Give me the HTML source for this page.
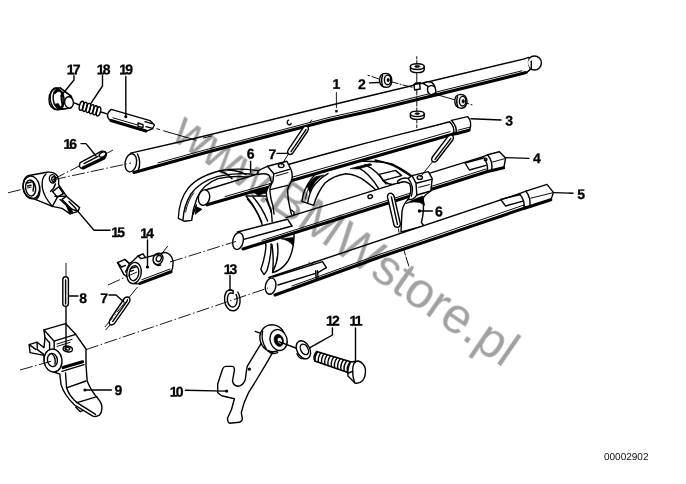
<!DOCTYPE html>
<html>
<head>
<meta charset="utf-8">
<title>00002902</title>
<style>
html,body{margin:0;padding:0;background:#fff;}
body{width:686px;height:484px;overflow:hidden;font-family:"Liberation Sans",sans-serif;}
svg{display:block;position:absolute;left:0;top:0;}
text{-webkit-font-smoothing:antialiased;text-rendering:geometricPrecision;}
.l{fill:none;stroke:#000;stroke-width:1.4;stroke-linecap:round;stroke-linejoin:round;}
.w{fill:#fff;stroke:#000;stroke-width:1.4;stroke-linecap:round;stroke-linejoin:round;}
.f{fill:#fff;stroke:none;}
.t{fill:none;stroke:#000;stroke-width:3.1;stroke-linecap:round;stroke-linejoin:round;}
.h{fill:none;stroke:#000;stroke-width:0.95;stroke-linecap:round;}
.k{fill:#000;stroke:#000;stroke-width:0.6;stroke-linejoin:round;}
.c{fill:none;stroke:#000;stroke-width:0.9;stroke-dasharray:13 2.5 1.5 2.5;}
.n{font-family:"Liberation Sans",sans-serif;font-weight:bold;font-size:14px;fill:#000;stroke:#000;stroke-width:0.3;text-anchor:middle;}
.id{font-family:"Liberation Sans",sans-serif;font-size:10px;fill:#111;}
.wm{font-family:"Liberation Sans",sans-serif;font-size:50px;fill:#000;fill-opacity:0.37;}
</style>
</head>
<body>
<svg width="686" height="484" viewBox="0 0 686 484">
<defs><filter id="gs" x="0" y="0" width="686" height="484" filterUnits="userSpaceOnUse" color-interpolation-filters="sRGB"><feColorMatrix type="saturate" values="0"/></filter></defs>
<rect x="0" y="0" width="686" height="484" fill="#fff"/>
<g id="rod1">
<path class="f" d="M130.6,153.1 L188,140 L344,102 L525,58.6 L526.5,73 L373,110.6 L330,120.2 L270,136 L205.8,152.6 L134,172.6 Z"/>
<path class="l" d="M130.6,153.1 L188,140 L344,102 L525.5,58.6"/>
<path class="t" d="M134,172.4 L205.8,152.5 L270,135.8 L330,120 L373,110.5 L526,72.6"/>
<path class="h" d="M158,162.9 L205.8,149.7 L270,133 L330,117.2 L373,107.7 L522,70.8"/>
<ellipse class="w" cx="130.8" cy="162.8" rx="5.7" ry="9.2" transform="rotate(10 130.8 162.8)"/>
<path class="l" d="M137.5,154 Q141.5,162 138.2,170.6"/>
<circle class="w" cx="534.4" cy="63" r="7" stroke-width="1.8"/>
<path class="f" d="M525,58.6 Q527,58 528.6,58.6 Q526.6,63 529.6,68.6 Q528,70.6 526.6,72.2 Z"/>
<path class="l" d="M525,58.6 Q527,58 528.8,57.4 M526.4,72.6 Q528.4,71 530,69.6"/>
<path class="l" d="M531.3,61.2 V68.8" stroke-width="1"/>
<path class="l" d="M288.5,120.2 a2,2.4 0 1 0 2.6,3.2" stroke-width="1.2"/>
</g>
<g id="part2">
<!-- notch in rod 1 -->
<path class="w" d="M423,83.4 Q427,80.6 431.6,82.4 Q436.4,86 435.6,93 L431,95 Q426,92 428,86.4 Z"/>
<path class="l" d="M428.6,86.6 Q432,84.6 434.6,86.8" stroke-width="1.4"/>
<path class="l" d="M431,95 Q436,96 436,92.6" stroke-width="1.6"/>
<!-- top washer -->
<path class="w" d="M410.4,66.6 V69.6 Q410.6,72.6 417.3,72.6 Q424,72.6 424.2,69.6 V66.6 Z"/>
<ellipse class="w" cx="417.3" cy="66.6" rx="6.9" ry="2.9" stroke-width="1.4"/>
<ellipse class="k" cx="417.3" cy="66.4" rx="2.6" ry="1"/>
<!-- bottom washer -->
<path class="w" d="M410.4,113.8 V116.6 Q410.6,119.4 417.3,119.4 Q424,119.4 424.2,116.6 V113.8 Z"/>
<ellipse class="w" cx="417.3" cy="113.8" rx="6.9" ry="2.7" stroke-width="1.4"/>
<ellipse class="k" cx="417.3" cy="113.6" rx="2.4" ry="0.9"/>
<!-- cube -->
<path class="w" d="M414,84.6 L419.6,83.6 L420.2,89 L414.6,90 Z" stroke-width="1.4"/>
<path class="l" d="M414,84.6 L415.4,83.2 L420.4,82.6 L419.6,83.6"/>
<!-- left roller -->
<path class="w" d="M385.6,73.4 Q379.4,73.6 379.6,80.6 Q380,87.4 386.6,87.4 Q391.6,87 391.8,80.2 Q391.6,73.6 385.6,73.4 Z" stroke-width="1.4"/>
<ellipse class="l" cx="387.6" cy="79.9" rx="3.2" ry="4.8"/>
<ellipse class="k" cx="388.2" cy="80" rx="1.2" ry="1.8"/>
<path class="l" d="M382.6,75.6 Q380.6,80 382.6,85.6" stroke-width="0.8"/>
<!-- right roller -->
<path class="w" d="M460.6,94.4 Q454.4,94.8 454.8,101.8 Q455.4,108.4 461.6,108.2 Q466.8,107.6 467,101.2 Q466.6,94.6 460.6,94.4 Z" stroke-width="1.4"/>
<ellipse class="l" cx="462.6" cy="101.2" rx="3.2" ry="4.8"/>
<ellipse class="k" cx="463.2" cy="101.3" rx="1.2" ry="1.8"/>
<path class="l" d="M457.6,96.8 Q455.8,101.4 457.8,106.6" stroke-width="0.8"/>
</g>
<g id="forkR">
<!-- right fork: upper prong (behind rod 3 and rod 4) -->
<path class="w" d="M302,201.4 Q303,193 306,187.6 Q310,179 318,172 Q334,163 356,161.4 Q378,160.4 392,164 Q404,170 412,176 L410,192 L378,192 Q373,187 366,181.6 Q357,174.6 346,173.8 Q334,175.4 325,183 Q317.6,192 313.6,205.4 Z"/>
<path class="l" d="M307.6,203.4 Q309,194 313,187 Q319,178.6 328,173.6"/>
<path class="h" d="M305.4,199 Q306.6,191 310.4,184.4"/>
<path class="k" d="M307,186 Q311,179.6 316,176.6 L324,175 Q317,178 313,185.4 Q311,189 310,193 Z"/>
<path class="k" d="M350,168.6 L370,163.6 L372,165 L358,169 Z"/>
<path class="l" d="M358,167.4 Q370,174 378.5,188.4"/>
<path class="l" d="M365,164.6 Q378,171 386,184"/>
<path class="l" d="M379.2,174.4 L395.6,170.4 L401.6,175.6 L383,180.6 Z"/>
<path class="l" d="M375,160 Q392,163 406,173.2 L410,175.6"/>
<path class="l" d="M383,180.6 Q390,186 397,183.6"/>
<!-- lower prong (behind rod 5) -->
<path class="w" d="M408,199.6 Q403.4,204 402,211 L401,232 L424,226 L421.4,222.6 Q424.6,210 423,198 Q426,194 430.6,191 L416,188 Z"/>
<path class="k" d="M406,203.6 Q412,199.6 423,196 Q423.6,200.6 424.6,205.4 Q420,201.4 414,202 Q409,202.4 406,203.6 Z"/>
</g>
<g id="forkL">
<!-- left fork: upper prong (behind rod 3) -->
<path class="w" d="M178.3,218.3 Q179,200 188,188.4 Q198,176 221,170.5 Q238,167.8 258,170.6 L268,172 L270,186 L254,178 Q236,174.6 218,178.6 Q203,184 197,198 Q192.6,209 191.7,220.4 L184,221.2 Z"/>
<path class="l" d="M183,219.4 Q184,205 191,194 Q200,181.4 218,176.4 Q236,172 256,174.6"/>
<path class="h" d="M185.6,212 Q187.6,201 193.6,193"/>
<path class="l" d="M220,171 Q228,173.6 232,178.8"/>
<path class="l" d="M228,170 Q240,170.6 246,174.6"/>
<path class="k" d="M196,206.6 L202,209.2 L195,214.4 Z"/>
<path class="l" d="M193,214.6 L196.4,205"/>
<!-- web + lower prong (behind rod 4 / rod 5) -->
<path class="w" d="M246,196 Q256,207 262,224 L266,246 Q265,258 260.8,269.4 L264,274.6 L267,270.6 Q271.4,256 271,244 L272,244.6 Q274,259 272.6,272.6 Q282,270 288,261 Q293.6,251 294,237 L294,212 L272,196 Z"/>
<path class="l" d="M247.4,199 Q256,208 261.8,222"/>
<path class="l" d="M253,197 Q262,207 267.6,221"/>
<path class="l" d="M266,199 Q270.6,208 273,218"/>
<path class="l" d="M277.4,243.4 Q279.6,258 273,271.4"/>
<path class="k" d="M281,238.8 L293.8,237.4 L293.4,246 Q289,240 281,238.8 Z"/>
<path class="k" d="M254,192.6 L268,189 L268.6,193 Q262,193 259,196 Z"/>
</g>
<g id="rod3">
<path class="f" d="M205.6,190 L290,164 L322,155 L344,149 L365,143.4 L400,134.4 L437.5,125 L449.4,121.8 L451.5,120.6 L468,116.8 L471,123 L469.4,130 L456,133.8 L452.5,134 L206,205 Z"/>
<path class="l" d="M205.6,190 L290,164 L322,155 L344,149 L365,143.4 L400,134.4 L437.5,125 L449.6,121.8"/>
<path class="t" d="M207,204.8 L452.5,134.2"/>
<path class="h" d="M225,196.6 L450,131.6"/>
<ellipse class="w" cx="204" cy="197.6" rx="5.6" ry="7.8" transform="rotate(12 204 197.6)"/>
<path class="l" d="M449.6,121.8 Q455,127 453.6,134"/>
<path class="l" d="M451.5,120.4 L467.6,116.6 Q472.6,122 469.6,130.2"/>
<path class="l" d="M451.5,120.4 Q457.5,126.5 456,133.6"/>
<path class="t" d="M457,133.4 L469,130.2"/>
<path class="h" d="M458,130.2 L469.6,127.2"/>
<path class="t" d="M452.5,134.2 L457,133.4"/>
</g>
<g id="hubL">
<!-- left fork hub (in front of rod 3) -->
<path class="w" d="M258,171 Q262,168.4 267.5,166.3 L286.9,161.2 L291.2,170 Q293.4,177 291,182 Q288.4,186 287.5,190 Q287.6,200 290.6,211 L293.6,222 L272.6,226 L271.2,210 Q266,198 266.4,192.4 Q267,188 271.6,182.6 Q270,177 268.8,175 Q264,172.6 258,174.6 Z"/>
<path class="l" d="M267.5,166.3 L273.8,173.8 L289.4,169.4"/>
<path class="l" d="M273.8,173.8 L273,181.2 Q269.4,187 270,192 Q270.6,199 273,206.4 L274,214"/>
<ellipse class="l" cx="281.2" cy="165.6" rx="2.8" ry="2" stroke-width="1.3"/>
<path class="h" d="M276,176 L288,172.6"/>
<path class="l" d="M270.4,189.6 L287.6,185.4"/>
</g>
<g id="rod4">
<path class="f" d="M237.5,232 L292,216.5 L483,156.6 L487.5,154.8 L499.4,151.8 L505.6,158 L503.8,168 L487.5,171.4 L243.8,249 Z"/>
<path class="l" d="M237.5,232 L287.5,219.2 L292,226"/>
<path class="l" d="M243.8,239.4 L292,226"/>
<path class="l" d="M286,217.6 L483.2,156.6"/>
<path class="t" d="M243,249 L487.5,171.6"/>
<path class="h" d="M262,240.4 L486,169"/>
<ellipse class="w" cx="238" cy="241" rx="5.2" ry="8.6" transform="rotate(12 238 241)"/>
<path class="l" d="M483.2,156.6 Q488.6,164 487.2,171.4"/>
<path class="l" d="M487.6,154.8 L499.4,151.8 L505.6,158 L503.8,167.8"/>
<path class="l" d="M487.6,154.8 Q493.4,162 491.6,170.4"/>
<path class="t" d="M492,170.4 L503.6,167.8"/>
<path class="h" d="M492.6,162 L505,158.6"/>
<path class="l" d="M465,163 L482.6,158.2 M465,163 L469.4,170 L486,165.4"/>
<circle class="l" cx="485.6" cy="159.4" r="1.3"/>
<path class="l" d="M483.2,156.6 L487.6,154.8"/>
<path class="t" d="M487.2,171.6 L492,170.4"/>
<ellipse class="l" cx="370.2" cy="196.6" rx="2.3" ry="1.8" transform="rotate(-20 370.2 196.6)" stroke-width="1.2"/>
</g>
<g id="hubR">
<!-- right fork hub (in front of rod 4) -->
<path class="w" d="M397.4,181.4 Q402,177 408.2,178.4 L412,175.6 L428.4,171.6 L432.2,178.6 L430.8,191 L416.8,195 Q414,200 408.2,199.6 Q412.6,190 409.6,183.6 Q404,180 398.2,183.4 Z"/>
<path class="l" d="M412,175.6 L416,183.2 L431.4,179.4 M416,183.2 L416.8,195"/>
<path class="l" d="M408.2,178.6 Q414.6,186 411.4,196" />
<ellipse class="l" cx="419.8" cy="177.5" rx="2.6" ry="1.9" stroke-width="1.3"/>
<path class="h" d="M418.6,187.4 L429.4,184.6"/>
<!-- pin 7 on rod 4 -->
<path class="w" d="M387.4,196.6 Q388,192.6 391.6,193.4 Q393.6,194.6 394.2,196.6 L400.4,224 Q400,227.6 397,227.4 Q394.4,227 394,225 Z" stroke-width="1.9"/>
<path class="l" d="M391.4,197 L397.4,224.4" stroke-width="1.2"/>
<path class="h" d="M398.4,229 L399,232.4"/>
</g>
<g id="rod5">
<path class="f" d="M268.8,277.5 L519.4,193.6 L526,191.2 L547,184.4 L553.4,192.4 L551,199.6 L526,207.6 L275,295 Z"/>
<path class="l" d="M268.8,277.5 L519.4,193.6"/>
<path class="t" d="M275,295 L380,257 L423,242.6 L526,207.6"/>
<path class="h" d="M292,286 L380,254.2 L423,239.8 L524,205"/>
<ellipse class="w" cx="270.6" cy="286.2" rx="5.2" ry="8.2" transform="rotate(12 270.6 286.2)"/>
<path class="l" d="M273,277 L322.5,261.6 L326.4,267.6"/>
<path class="l" d="M278,285 L315.6,273.4 M317.4,272.8 L326.4,267.6"/>
<path class="l" d="M315.6,271 L316.4,279.6 M317.4,270.6 L318.2,279" />
<path class="h" d="M309,262.6 l2.4,1.8 l2.4,-2.6"/>
<path class="l" d="M519.4,193.6 Q525.4,200.6 523.8,208.2"/>
<path class="l" d="M526,191.2 L547,184.4 L553.4,192.4 L551,199.6"/>
<path class="l" d="M526,191.2 Q531.4,199 529.6,206.6"/>
<path class="t" d="M530,206.4 L550.8,199.8"/>
<path class="h" d="M530.6,198.2 L552.6,192.8"/>
<path class="l" d="M500.6,199.4 L519.6,194.8 M500.6,199.4 L505.6,206 L523,201.2"/>
<path class="l" d="M519.4,193.6 L526,191.2"/>
<path class="t" d="M525,208 L530,206.4"/>
</g>
<g id="pins7">
<!-- pin 7 upper-left -->
<path class="h" d="M310,122.4 L311.6,120 M289,153 L281.6,165"/>
<path class="w" d="M303.2,127.6 Q306,125 308,127 Q309,129 307.8,131 L292.6,153.4 Q290,155.6 288,153.6 Q287,151.6 288.4,149.6 Z" stroke-width="1.4"/>
<path class="l" d="M306,129.6 L291,151.6" stroke-width="0.9"/>
<!-- pin 7 upper-right -->
<path class="h" d="M433.4,160.6 L420.4,177"/>
<path class="w" d="M448,136.4 Q451,133.8 453,136 Q454,138 452.8,140 L436.6,161 Q434,163 432,161 Q431,159 432.4,157 Z" stroke-width="1.4"/>
<path class="l" d="M450.8,138.6 L435,159.4" stroke-width="0.9"/>
</g>
<g id="p171819">

<!-- 17 plug -->
<path class="w" d="M57,88 Q49,90 49,99.4 Q49,109 57.6,109.8 L70.6,108 Q74.2,103 71.4,96.4 L60.4,88 Z"/>
<ellipse class="l" cx="56.6" cy="98.8" rx="6.4" ry="10.8" transform="rotate(-6 56.6 98.8)" stroke-width="1.6"/>
<ellipse class="l" cx="58.6" cy="99" rx="5.4" ry="9.6" transform="rotate(-6 58.6 99)"/>
<path class="l" d="M60.4,88 L71.2,96.2"/>
<path class="l" d="M62,92 Q60,99 63,106.4"/>
<path class="k" d="M55,104 Q57,108.6 61,109.6 L66,108.8 Q60,108 58.4,103.6 Z"/>
<path class="k" d="M53.6,92 Q56,89.4 59,89.6 L60.4,91.4 Q57,91 55,94 Z"/>
<ellipse class="w" cx="69" cy="102.4" rx="4.4" ry="5.7" transform="rotate(-8 69 102.4)"/>
<path class="l" d="M73.6,102.6 L79.4,105"/>
<!-- 18 spring -->
<ellipse class="l" cx="81.5" cy="105.8" rx="2" ry="4.7" transform="rotate(14 81.5 105.8)" stroke-width="1.3"/>
<ellipse class="l" cx="84.9" cy="106.9" rx="2" ry="4.7" transform="rotate(14 84.9 106.9)" stroke-width="1.3"/>
<ellipse class="l" cx="88.3" cy="108.0" rx="2" ry="4.7" transform="rotate(14 88.3 108.0)" stroke-width="1.3"/>
<ellipse class="l" cx="91.7" cy="109.2" rx="2" ry="4.7" transform="rotate(14 91.7 109.2)" stroke-width="1.3"/>
<ellipse class="l" cx="95.1" cy="110.3" rx="2" ry="4.7" transform="rotate(14 95.1 110.3)" stroke-width="1.3"/>
<ellipse class="l" cx="98.5" cy="111.4" rx="2" ry="4.7" transform="rotate(14 98.5 111.4)" stroke-width="1.3"/>
<path class="l" d="M101,112 L107,113.8"/>
<!-- 19 pin -->
<path class="w" d="M111.2,109.4 L150,120.6 L154.4,125 L152.5,128.8 L146.2,131.2 L110.6,120.6 Q104,115.4 111.2,109.4 Z"/>
<path class="t" d="M111,120.6 L146,131" stroke-width="1.8"/>
<path class="l" d="M138,123 L143,124.6 L143,127.6 L138,126.2 Z"/>
<path class="l" d="M145,121.6 L152,123.6 M146,126.6 L152.6,128.4"/>
<path class="h" d="M113,117.8 L137,124.8"/>
</g>
<g id="p1516">
<!-- 16 roll pin -->
<path class="w" d="M80.2,162.6 L101.6,151.2 Q106.6,150.6 106.4,154.6 Q106,157.4 104.6,158 L82.4,168.4 Q78,168 80.2,162.6 Z"/>
<path class="t" d="M83,168 L104,158" stroke-width="1.6"/>
<path class="l" d="M84,163.6 L98,156.4" stroke-width="1.5"/>
<ellipse class="l" cx="102.6" cy="154.6" rx="3.6" ry="2.2" transform="rotate(-27 102.6 154.6)"/>
<!-- 15 lever -->
<path class="w" d="M27.5,175.8 L47,172.2 Q54,171.4 57.4,176 Q59.4,180 58.6,184.6 L66.4,196.2 L79.6,207.6 L78,211.4 L70.2,213.8 L62,208.4 L52.4,206.4 L34,198.8 Q24,197 23,187.6 Q23,178 27.5,175.8 Z"/>
<ellipse class="l" cx="31.4" cy="187.4" rx="8.2" ry="11.4" transform="rotate(-8 31.4 187.4)" stroke-width="1.4"/>
<ellipse class="w" cx="30.6" cy="188" rx="5" ry="8" transform="rotate(-8 30.6 188)"/>
<path class="l" d="M27,183 L33,181.6 M27.6,186 L31,185.2 M33,181.6 Q34.6,186 33,191"/>
<path class="l" d="M39.6,186 Q41,196 36,199.4"/>
<path class="l" d="M46,174 Q41,178 42.4,188 Q44,197 52.4,206.4"/>
<ellipse class="w" cx="52.6" cy="178.8" rx="3.2" ry="4.2" transform="rotate(-10 52.6 178.8)" stroke-width="1.4"/>
<ellipse class="l" cx="53.4" cy="179" rx="1.6" ry="2.4"/>
<path class="l" d="M55.4,184 Q54,189 50.6,191.4" stroke-width="1.8"/>
<path class="l" d="M52.6,191.6 L58.8,186.8 L63.4,193.6 L57.4,197.2 Z"/>
<path class="l" d="M55,196.4 L66.4,196.2 M57.4,197.2 L52.4,206.4 M60,199.6 L66.6,205.6 L70.2,213.8"/>
<path class="l" d="M66.4,196.2 L62,199.4 L71.6,209 L78,211.4"/>
<path class="l" d="M69,201.4 L75.6,208.2" stroke-width="1.5"/>
<path class="k" d="M66.8,205.8 L71.6,209.4 L73,212.6 L70.2,213.8 Z"/>
</g>
<g id="p14">
<!-- 14 sleeve -->
<path class="w" d="M117.5,262.6 L125,259.4 L129.4,263.6 L131.9,261.9 L138,256 L143,253.8 L145.4,257.6 L165,252.4 Q171.6,253.6 173,261.2 Q173.4,268 171.2,271.8 L138.8,283.8 Q130,284.6 127.6,277 L123.8,274.4 Z"/>
<path class="l" d="M125,259.4 L129.4,263.8 L125.6,272"/>
<path class="l" d="M117.5,262.6 L121.6,267 L125.4,265.4"/>
<path class="l" d="M138,256 L141,258.6 L145.4,257.6"/>
<ellipse class="w" cx="134" cy="273" rx="7.2" ry="10.7" transform="rotate(10 134 273)" stroke-width="1.5"/>
<ellipse class="l" cx="134" cy="273.2" rx="4.7" ry="7.6" transform="rotate(10 134 273.2)"/>
<path class="l" d="M130.6,268.6 L136.6,266.6 M130.2,271.4 L133.4,270.4"/>
<path class="t" d="M140,283.4 L171,271.8" stroke-width="2.2"/>
<path class="h" d="M142,279.6 L170,269"/>
<ellipse class="l" cx="158" cy="258.8" rx="4.8" ry="5.8" transform="rotate(20 158 258.8)" stroke-width="1.5"/>
<ellipse class="l" cx="158.8" cy="258.4" rx="2.4" ry="3.2" transform="rotate(20 158.8 258.4)"/>
<path class="l" d="M153.6,262 Q156,266.6 160.6,265" stroke-width="1.6"/>
<path class="h" d="M160,256.2 L167.6,246.2"/>
<!-- pin 7 lower -->
<path class="w" d="M124.6,298 Q127.4,295.8 129.6,298 Q130.6,300 129.4,302.2 L114.2,323.8 Q111.6,326 109.6,324 Q108.6,322.2 109.8,320 Z" stroke-width="1.6"/>
<path class="l" d="M127.4,300.6 L112.8,321.4" stroke-width="1"/>
<path class="h" d="M109.6,325.4 L106,329.6"/>
</g>
<g id="p89">
<!-- 8 pin -->
<path class="w" d="M62.8,279.4 Q63,276.8 65.6,276.8 Q68.2,276.8 68.4,279.4 V304 Q68.2,306.4 65.6,306.4 Q63,306.4 62.8,304 Z" stroke-width="1.5"/>
<path class="l" d="M65.6,280 V304" stroke-width="0.9"/>
<!-- 9 selector arm -->
<path class="w" d="M29.2,344.6 L37,342.2 L44,347.6 L45,337.6 L43.9,329.8 L65.5,323.6 L75.7,334.3 L86,349 L86,365 L87.2,381 Q91,391 98.5,399.2 Q102.4,404 101.9,408.6 Q101.6,413 99.4,415.2 Q96,417.2 92.8,416.2 L74.6,405 Q64,395 61,384.4 L59.8,374.2 L54.1,372 Q45,370 44.2,360 L44,355.4 L30,352.6 Z"/>
<path class="l" d="M43.9,329.8 L54.1,341.2 L75.7,334.3 M54.1,341.2 L54.2,349.2"/>
<path class="l" d="M45,337.6 L49.6,342.8 L49.6,350"/>
<path class="l" d="M37,342.2 L37.4,349.6 L44,354.6 M29.2,344.6 L36,349.6"/>
<path class="h" d="M57,344 L72,339.4 M57,346.4 L70,342.4"/>
<ellipse class="w" cx="53" cy="360.5" rx="9" ry="11.5" transform="rotate(-8 53 360.5)" stroke-width="1.5"/>
<ellipse class="l" cx="52.4" cy="360" rx="5" ry="6.6" transform="rotate(-8 52.4 360)"/>
<path class="l" d="M52,354 Q56,357 55,364"/>
<ellipse class="l" cx="67.8" cy="349" rx="4.8" ry="2.8" transform="rotate(14 67.8 349)" stroke-width="1.5"/>
<ellipse class="l" cx="67.4" cy="348.6" rx="2.4" ry="1.4" transform="rotate(14 67.4 348.6)"/>
<path class="t" d="M63,367.6 L82.6,361.8" stroke-width="2"/>
<path class="l" d="M62,371.4 L84,364.6"/>
<path class="l" d="M65.5,373 L66.6,387.8 L86,381"/>
<path class="l" d="M66.6,387.8 Q69,396 77,402.6 L97,396.6"/>
<path class="l" d="M77,402.6 L95.6,414.4"/>
<path class="l" d="M75.7,407 L80.3,411.7 L83,410.4" stroke-width="1.5"/>
</g>
<g id="p10">

<!-- 13 circlip -->
<path class="l" d="M233,290.6 Q226,287.8 224.6,297 Q224,306 229.6,310 Q236.6,312.6 239.4,305.4 Q241.4,298 237.8,292" stroke-width="1.5"/>
<path class="l" d="M233,293.4 Q228.4,291.4 227.4,298 Q227,304 231,306.6 Q235,308 236.6,303.4 Q238,298 236,294.4" stroke-width="0.9"/>
<path class="l" d="M229.4,289.6 L233,290.6 L233.2,293.4" stroke-width="1.4"/>
<!-- 10 lever -->
<path class="w" d="M260.9,343.8 L247.2,366.4 L246.6,370 L245.2,380 Q243,385.6 238,386.2 Q233.4,385.6 232.5,381 L234.4,370.3 Q234.4,366.6 232.5,366.4 L225.6,366.4 Q223.6,366.6 222.6,369 L217.7,384 L217.7,392.8 L221.7,395.8 L234.4,398.7 L231.5,409.5 L227.5,418.3 Q227.6,422.6 229.5,423.2 L239.3,422.3 Q242.6,421 242.3,418.3 L241.3,412.5 L244.2,402.6 Q248,392 254,384 L265.8,364.4 L272.6,352.6 Z"/>
<circle class="l" cx="249.4" cy="369.2" r="0.9" stroke-width="1"/>
<!-- boss -->
<ellipse class="w" cx="272.6" cy="338.2" rx="12.6" ry="13.6" transform="rotate(-20 272.6 338.2)" stroke-width="1.5"/>
<path class="l" d="M262.6,331 Q260.6,340 266,348.6" />
<ellipse class="w" cx="278.6" cy="340" rx="8.4" ry="10.6" transform="rotate(-18 278.6 340)" stroke-width="1.4"/>
<ellipse class="k" cx="278.8" cy="340.4" rx="4.6" ry="6.2" transform="rotate(-18 278.8 340.4)"/>
<ellipse cx="279.8" cy="340.6" rx="2" ry="3" fill="#fff" transform="rotate(-18 279.8 340.6)"/>
<path class="l" d="M268,351 Q272,355 277.6,352.6" stroke-width="1.6"/>
<path class="l" d="M255.2,331.4 L260,333.2" stroke-width="1"/>
<path class="l" d="M279,341.6 L298.4,349" stroke-width="1"/>
<!-- 12 washer -->
<ellipse class="w" cx="303.4" cy="349.8" rx="6.4" ry="9.6" transform="rotate(-28 303.4 349.8)" stroke-width="1.5"/>
<ellipse class="l" cx="304.4" cy="349.4" rx="3.6" ry="5.6" transform="rotate(-28 304.4 349.4)" stroke-width="1.4"/>
<path class="l" d="M297,353.6 Q299,359.6 305,358.6" stroke-width="1"/>
<!-- 11 bolt -->
<path class="w" d="M316.5,351.5 L351.5,362 L348,372.5 L314.7,361 Q312.6,356 316.5,351.5 Z"/>
<path class="l" d="M317.7,351.5 Q314.3,356.4 315.3,361.3" stroke-width="1"/>
<path class="l" d="M320.9,352.6 Q317.5,357.5 318.5,362.4" stroke-width="1"/>
<path class="l" d="M324.1,353.6 Q320.7,358.5 321.7,363.4" stroke-width="1"/>
<path class="l" d="M327.3,354.7 Q323.9,359.6 324.9,364.5" stroke-width="1"/>
<path class="l" d="M330.5,355.7 Q327.1,360.6 328.1,365.5" stroke-width="1"/>
<path class="l" d="M333.8,356.8 Q330.4,361.7 331.4,366.6" stroke-width="1"/>
<path class="l" d="M337.0,357.9 Q333.6,362.8 334.6,367.7" stroke-width="1"/>
<path class="l" d="M340.2,358.9 Q336.8,363.8 337.8,368.7" stroke-width="1"/>
<path class="l" d="M343.4,360.0 Q340.0,364.9 341.0,369.8" stroke-width="1"/>
<path class="l" d="M346.6,361.0 Q343.2,365.9 344.2,370.8" stroke-width="1"/>
<path class="l" d="M349.8,362.1 Q346.4,367.0 347.4,371.9" stroke-width="1"/>
<path class="w" d="M350.6,362 L358.4,361 Q364,363 365.4,369 Q366,376 362.8,380.4 Q359,384 355,383 L348,376 Q347,369 350.6,362 Z" stroke-width="1.5"/>
<path class="l" d="M354.4,362.4 Q350.6,370 354.6,382.6"/>
<path class="l" d="M348.4,373 L353,371.4" />
</g>
<g id="centrelines">

<path class="h" d="M156.8,128.7 L159.6,129.5 M163.6,130.8 L196,140.2 M203.4,138 L212,135.8"/>
<path class="c" d="M8,192.8 L31.5,187"/>
<path class="c" d="M53,179.4 L80,165.6 M106.6,153.4 L113,150"/>
<path class="c" d="M53,179.8 L131,163"/>
<path class="c" d="M20,370 L52,361"/>
<path class="c" d="M86,349.6 L268,288"/>
<path class="c" d="M108,285 L137,272"/>
<path class="c" d="M170,262 L236,241.4"/>
<path class="c" d="M66,263 V276"/>
<path class="l" d="M66,307 V350" stroke-width="0.9"/>
<path class="c" d="M137.5,287 L105,327"/>
<path class="h" d="M416.8,56.6 V59 M416.8,60.6 V64 M416.8,72.6 V83.4"/>
<path class="h" d="M416.8,90 V95 M416.8,97 V98 M416.8,100 V106 M416.8,108 V111 M416.8,119.6 V123 M416.8,125 V127.6"/>
<path class="h" d="M368,75.4 L369.6,75.8 M372,76.6 L379,79 M392,82 L398,83.6 M400,84.2 L401,84.4 M403,85 L412,87.2"/>
<path class="h" d="M436,94.4 L454.6,99.8 M467.4,103.4 L468.8,103.8 M471,104.6 L472,104.8"/>
<path class="h" d="M403.8,249.6 L405.4,255 M406,257 L408.8,266" stroke-width="0.8"/>
</g>
<g id="labels" filter="url(#gs)">
<text class="n" x="336.4" y="88.8" transform="rotate(0.03 336.4 88.8)">1</text>
<text class="n" x="361.9" y="88.9" transform="rotate(0.03 361.9 88.9)">2</text>
<text class="n" x="509.1" y="125.5" transform="rotate(0.03 509.1 125.5)">3</text>
<text class="n" x="536.9" y="163" transform="rotate(0.03 536.9 163)">4</text>
<text class="n" x="581.2" y="199" transform="rotate(0.03 581.2 199)">5</text>
<text class="n" x="250.6" y="158.6" transform="rotate(0.03 250.6 158.6)">6</text>
<text class="n" x="272.5" y="159" transform="rotate(0.03 272.5 159)">7</text>
<text class="n" x="438.9" y="216.2" transform="rotate(0.03 438.9 216.2)">6</text>
<text class="n" x="104.1" y="303" transform="rotate(0.03 104.1 303)">7</text>
<text class="n" x="83.2" y="303" transform="rotate(0.03 83.2 303)">8</text>
<text class="n" x="118.4" y="395" transform="rotate(0.03 118.4 395)">9</text>
<text class="n" x="176.6" y="396.4" transform="rotate(0.03 176.6 396.4)">1<tspan dx="-1.9">0</tspan></text>
<text class="n" x="356" y="325.5" transform="rotate(0.03 356 325.5)">1<tspan dx="-1.9">1</tspan></text>
<text class="n" x="332.9" y="325.5" transform="rotate(0.03 332.9 325.5)">1<tspan dx="-1.9">2</tspan></text>
<text class="n" x="230.5" y="274" transform="rotate(0.03 230.5 274)">1<tspan dx="-1.9">3</tspan></text>
<text class="n" x="147.2" y="238" transform="rotate(0.03 147.2 238)">1<tspan dx="-1.9">4</tspan></text>
<text class="n" x="118.2" y="237" transform="rotate(0.03 118.2 237)">1<tspan dx="-1.9">5</tspan></text>
<text class="n" x="70.3" y="148.8" transform="rotate(0.03 70.3 148.8)">1<tspan dx="-1.9">6</tspan></text>
<text class="n" x="73.7" y="74.3" transform="rotate(0.03 73.7 74.3)">1<tspan dx="-1.9">7</tspan></text>
<text class="n" x="103.6" y="74.3" transform="rotate(0.03 103.6 74.3)">1<tspan dx="-1.9">8</tspan></text>
<text class="n" x="126.2" y="74.3" transform="rotate(0.03 126.2 74.3)">1<tspan dx="-1.9">9</tspan></text>
<g class="l">
<path d="M336.4,92.6 V107.6" stroke-width="0.9"/><rect x="335.2" y="110" width="2.4" height="2.4" fill="#000" stroke="none"/>
<path d="M369.4,82.9 L378.8,82.5"/>
<path d="M471,118.8 L501,120"/>
<path d="M505.8,157.6 L529,158.4"/>
<path d="M553.8,192.6 L573,193.2"/>
<path d="M250.6,161.4 V172.6"/>
<path d="M277,153.4 H288"/>
<path d="M419.6,211 H432.4"/><circle cx="419.4" cy="211" r="1" fill="#000"/>
<path d="M109,295 H116 L124,302"/>
<path d="M69,296 H78"/>
<path d="M85,390 H111.4"/><circle cx="85" cy="390" r="0.9" fill="#000"/>
<path d="M185.4,390.3 L226,391.1"/><circle cx="226.6" cy="391.1" r="1" fill="#000"/>
<path d="M355.5,328 V362.6"/>
<path d="M332.4,328 V335 L310,347.6"/>
<path d="M230,275.6 V289.6"/>
<path d="M147.5,240 V266"/><circle cx="147.5" cy="267" r="0.9" fill="#000"/>
<path d="M110,230.2 H94 L75.6,208.6"/>
<path d="M81,143.6 H86 L96,156"/>
<path d="M74,75.6 V80 L61,96"/>
<path d="M102.5,75.6 V86 L90.6,103.8"/>
<path d="M125.8,76.4 V115.6"/><circle cx="125.8" cy="116.6" r="0.9" fill="#000"/>
</g>
</g>
<g id="watermark">
<text class="wm" transform="translate(169.4,138.2) rotate(34.5)">www.BMWstore.pl</text>
</g>

<g filter="url(#gs)"><text class="id" x="604" y="460">00002902</text></g>
</svg>
</body>
</html>
